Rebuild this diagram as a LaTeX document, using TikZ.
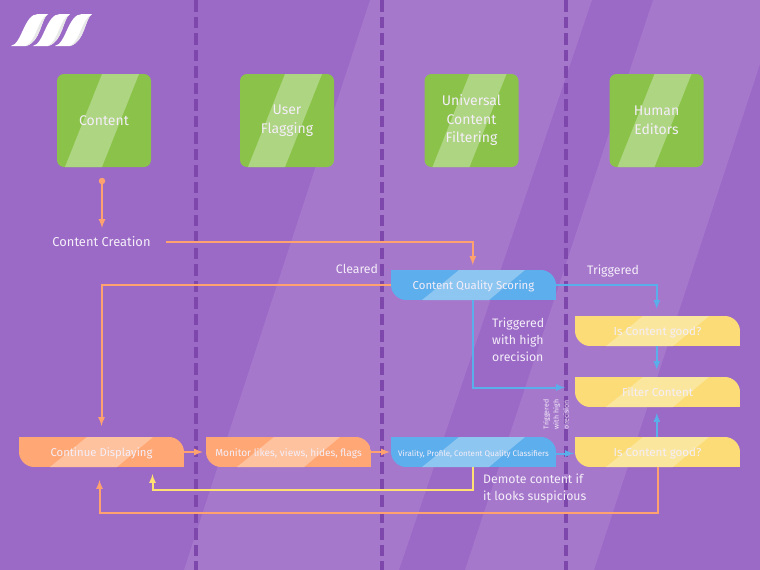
\documentclass[tikz,border=0pt]{standalone}
\usepackage{fontspec}
\setmainfont{Fira Sans}
\usetikzlibrary{calc}
\definecolor{bgdark}{HTML}{9B69C6}
\definecolor{bglight}{HTML}{A678CC}
\definecolor{lanedash}{HTML}{7D47AB}
\definecolor{labeltext}{HTML}{F4EEF9}
\definecolor{greenbase}{HTML}{8BC34A}
\definecolor{greenshine}{HTML}{AED581}
\definecolor{orangebase}{HTML}{FFA875}
\definecolor{orangeshine}{HTML}{FFC29E}
\definecolor{bluebase}{HTML}{5CAEEC}
\definecolor{blueshine}{HTML}{8DC6F0}
\definecolor{yellowbase}{HTML}{FBDC76}
\definecolor{yellowshine}{HTML}{FBE69E}
\definecolor{orangeline}{HTML}{FFA270}
\definecolor{blueline}{HTML}{5AAEEA}
\definecolor{yellowline}{HTML}{FFE070}
\tikzset{
  lane/.style={text=labeltext, font=\fontsize{14}{18.5}\selectfont, align=center,
    minimum width=94pt, minimum height=93pt, inner sep=0pt, outer sep=0pt, fill=greenbase,
    rounded corners=7pt, path picture={
      \fill[greenshine, sharp corners] ($(path picture bounding box.north west)+(45,0)$) -- ++(37,0)
        -- ($(path picture bounding box.south west)+(45,0)$) -- ++(-37,0) -- cycle;
    }},
  flow/.style 2 args={text=labeltext, font=\fontsize{11.6}{14}\selectfont, minimum width=165pt,
    minimum height=30pt, inner sep=0pt, outer sep=0pt, text height=10pt, text depth=2pt, path picture={
      \coordinate (nw) at (path picture bounding box.north west);
      \path[clip] (nw) -- ($(nw)+(150,0)$) .. controls ($(nw)+(158,0)$) and ($(nw)+(165,7)$) .. ($(nw)+(165,15)$)
        -- ($(nw)+(165,30)$) -- ($(nw)+(15,30)$) .. controls ($(nw)+(7,30)$) and ($(nw)+(0,23)$) .. ($(nw)+(0,15)$) -- cycle;
      \fill[#1] (nw) rectangle ($(nw)+(165,30)$);
      \fill[#2] ($(nw)+(68,0)$) -- ($(nw)+(134,0)$) -- ($(nw)+(98,30)$) -- ($(nw)+(31,30)$) -- cycle;
    }},
  label/.style={text=labeltext, font=\fontsize{12.3}{17}\selectfont, inner sep=0pt, align=left},
  link/.style={#1, line width=2pt, -latex},
  link/.default=orangeline
}
\begin{document}
\begin{tikzpicture}[x=1pt, y=-1pt]
\useasboundingbox (0,0) rectangle (760,570);
\fill[bgdark] (0,0) rectangle (760,570);
\begin{scope}
  \clip (0,0) rectangle (760,570);
  \fill[bglight] (370,0) -- (592,0) -- (399,570) -- (184,570) -- cycle;
  \fill[bglight] (653,0) -- (781,0) -- (594,570) -- (465,570) -- cycle;
\end{scope}
\foreach \x in {195.5,381.5,565.5}
  \draw[lanedash, line width=4pt, dash pattern=on 11.5pt off 5pt] (\x,0) -- (\x,570);
% logo
\foreach \x in {0,22,44}
{
  \fill[white, shift={(\x,0)}] (11,46) .. controls (22,44) and (24,14) .. (38,14) -- (48,14)
    .. controls (41,18) and (41,42) .. (26,46) -- cycle;
  \fill[gray!18, shift={(\x,0)}] (48,14) .. controls (41,18) and (41,42) .. (26,46)
    .. controls (37,40) and (37,20) .. (48,14) -- cycle;
}

\node[lane] (content) at (104,120.5) {Content};
\node[lane] (user) at (287,120.5) {User\\Flagging};
\node[lane] (universal) at (471.5,120.5) {Universal\\Content\\Filtering};
\node[lane] (human) at (656.5,120.5) {Human\\Editors};

\node[flow={orangebase}{orangeshine}, font=\fontsize{11.3}{14}\selectfont] (display) at (101.5,452) {Continue Displaying};
\node[flow={orangebase}{orangeshine}, font=\fontsize{10.1}{14}\selectfont] (monitor) at (288.5,452) {Monitor likes, views, hides, flags};
\node[flow={bluebase}{blueshine}, font=\fontsize{11.4}{14}\selectfont] (scoring) at (473.5,285) {Content Quality Scoring};
\node[flow={bluebase}{blueshine}, font=\fontsize{8}{10}\selectfont] (classifiers) at (473.5,452) {Virality, Profile, Content Quality Classifiers};
\node[flow={yellowbase}{yellowshine}] (good) at (657.5,331) {Is Content good?};
\node[flow={yellowbase}{yellowshine}] (filter) at (657.5,392) {Filter Content};
\node[flow={yellowbase}{yellowshine}] (recheck) at (657.5,452) {Is Content good?};

\node[label, font=\fontsize{12.9}{17}\selectfont] (creation) at (101.5,242) {Content Creation};
\node[label] (cleared) at (357,269) {Cleared};
\node[label] (trig) at (613,271.5) {Triggered};
\node[label, anchor=west] (high) at (492,340) {Triggered\\with high\\orecision};
\node[label, anchor=west] (demote) at (483,489) {Demote content if\\it looks suspicious};
\node[label, rotate=90, align=center, font=\fontsize{7}{10}\selectfont] (highsmall) at (556,414.5) {Triggered\\with high\\orecision};

\node[circle, fill=orangeline, inner sep=0pt, minimum size=6.5pt] (start) at (102,181) {};
\coordinate (creationin) at (102,228);
\coordinate (creationout) at (166,242);

\draw[link] (start) -- (creationin);
\draw[link, shorten >=5pt] (creationout) -| ([xshift=-.7pt]scoring.north);
\draw[link, shorten >=11pt] (scoring.west) -| (display.north);
\draw[link=blueline, shorten >=7pt] (scoring.east) -| ([xshift=-.7pt]good.north);
\draw[link=blueline, shorten >=10pt] ([xshift=-.7pt]scoring.south) |- ([yshift=4.5pt]filter.west);
\draw[link=blueline, shorten >=7pt] ([xshift=-.7pt]good.south) -- ([xshift=-.7pt]filter.north);
\draw[link=blueline, shorten >=6pt] ([xshift=-.7pt]recheck.north) -- ([xshift=-.7pt]filter.south);
\draw[link, shorten >=3pt] (display.east) -- (monitor.west);
\draw[link, shorten >=1pt] (monitor.east) -- (classifiers.west);
\draw[link=blueline, shorten >=1pt] ([yshift=-1.5pt]classifiers.east) -- ([yshift=-1.5pt]recheck.west);
\draw[link=yellowline, shorten >=7pt] ([xshift=-.7pt]classifiers.south) |- (152.5,490) -- ([xshift=51pt]display.south);
\draw[link, shorten >=13pt] (recheck.south) |- (99.5,513) -- ([xshift=-2pt]display.south);
\end{tikzpicture}
\end{document}
